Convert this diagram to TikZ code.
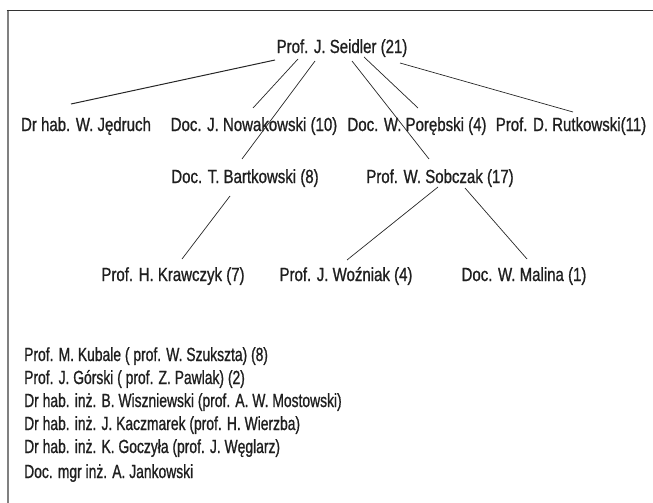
\documentclass[tikz,border=0pt]{standalone}
\usepackage{fontspec}
\setmainfont[FakeStretch=0.79,FakeBold=0.9]{Liberation Sans}
\newfontfamily\narrowlist[FakeStretch=0.73,FakeBold=0.9]{Liberation Sans}
\begin{document}
\begin{tikzpicture}[x=1pt,y=-1pt,
  person/.style={anchor=base,inner sep=0pt,font=\fontsize{19}{21}\selectfont,text=black!88},
  listitem/.style={anchor=base west,inner sep=0pt,font=\narrowlist\fontsize{19}{21}\selectfont,text=black!88},
  link/.style={draw=black!85,line width=0.7pt}]
\useasboundingbox (0,0) rectangle (653,503);
% frame: gray left rule, dark top rule
\draw[black!50,line width=2pt] (7.5,10) -- (7.5,503);
\draw[black!80,line width=1.4pt] (6.5,10.5) -- (653,10.5);

% tree of names
\node[person] (seidler)    at (342,53)  {Prof. J. Seidler (21)};
\node[person] (jedruch)    at (86,131)  {Dr hab. W. Jędruch};
\node[person] (nowakowski) at (254,131) {Doc. J. Nowakowski (10)};
\node[person] (porebski)   at (417,131) {Doc. W. Porębski (4)};
\node[person] (rutkowski)  at (571,131) {Prof. D. Rutkowski(11)};
\node[person] (bartkowski) at (245,183) {Doc. T. Bartkowski (8)};
\node[person] (sobczak)    at (440,183) {Prof. W. Sobczak (17)};
\node[person] (krawczyk)   at (173,281) {Prof. H. Krawczyk (7)};
\node[person] (wozniak)    at (346,281) {Prof. J. Woźniak (4)};
\node[person] (malina)     at (524,281) {Doc. W. Malina (1)};

\draw[link,line width=1pt] ([shift={(-67,7)}]seidler.base) -- ([shift={(-15,-27)}]jedruch.base);
\draw[link] ([shift={(-44,6)}]seidler.base) -- ([shift={(-1,-23)}]nowakowski.base);
\draw[link] ([shift={(-27,8)}]seidler.base) -- ([shift={(-3,-24)}]bartkowski.base);
\draw[link] ([shift={(10,8)}]seidler.base) -- ([shift={(-11,-24)}]sobczak.base);
\draw[link] ([shift={(22,4)}]seidler.base) -- ([shift={(1,-23)}]porebski.base);
\draw[link] ([shift={(58,10)}]seidler.base) -- ([shift={(2,-19)}]rutkowski.base);
\draw[link] ([shift={(-15,13)}]bartkowski.base) -- ([shift={(9,-22)}]krawczyk.base);
\draw[link] ([shift={(-2,4)}]sobczak.base) -- ([shift={(1,-21)}]wozniak.base);
\draw[link] ([shift={(25,5)}]sobczak.base) -- ([shift={(3,-22)}]malina.base);

% list of further names
\node[listitem] (kubale)      at (24,361) {Prof. M. Kubale ( prof. W. Szukszta) (8)};
\node[listitem] (gorski)      at (24,384) {Prof. J. Górski ( prof. Z. Pawlak) (2)};
\node[listitem] (wiszniewski) at (24,407) {Dr hab. inż. B. Wiszniewski (prof. A. W. Mostowski)};
\node[listitem] (kaczmarek)   at (24,430) {Dr hab. inż. J. Kaczmarek (prof. H. Wierzba)};
\node[listitem] (goczyla)     at (24,453) {Dr hab. inż. K. Goczyła (prof. J. Węglarz)};
\node[listitem] (jankowski)   at (24,478) {Doc. mgr inż. A. Jankowski};
\end{tikzpicture}
\end{document}
